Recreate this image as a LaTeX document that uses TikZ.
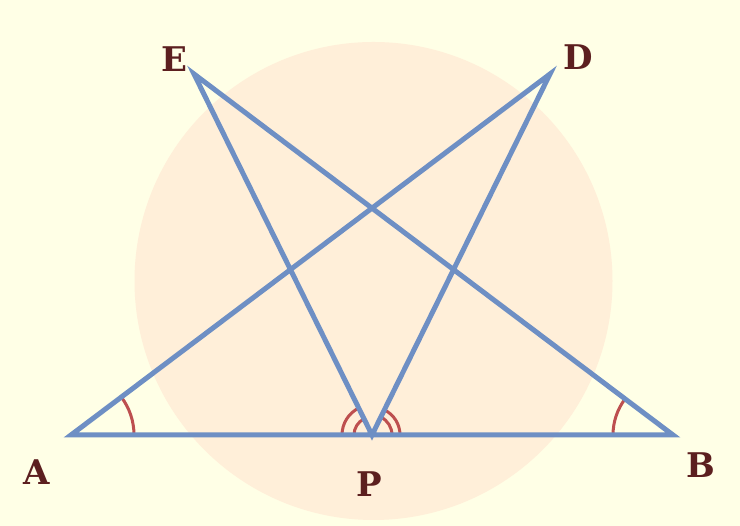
\documentclass[tikz,border=0pt]{standalone}
\usepackage{fontspec}
\setmainfont{DejaVu Serif}
\definecolor{bgc}{HTML}{FFFFE6}
\definecolor{circc}{HTML}{FFEFD9}
\definecolor{linec}{HTML}{6E8FC4}
\definecolor{arcc}{HTML}{BD4F4F}
\definecolor{labc}{HTML}{5C1F1F}
\begin{document}
\begin{tikzpicture}[x=1pt,y=1pt,
  starline/.style={draw=linec,line width=5pt,line join=miter},
  anglearc/.style={draw=arcc,line width=3pt},
  lab/.style={inner sep=0pt,text=labc,font=\fontsize{34}{34}\selectfont\bfseries}]
\useasboundingbox (0,0) rectangle (740,526);
\fill[bgc] (0,0) rectangle (740,526);
\fill[circc] (373.5,245) circle[radius=239pt];
\coordinate (A) at (71,91);
\coordinate (B) at (673,91);
\coordinate (P) at (372,91);
\coordinate (E) at (194,452);
\coordinate (D) at (550,452);
% angle arcs
\draw[anglearc] ([shift={(0:63pt)}]A) arc[start angle=0,end angle=37,radius=63pt];
\draw[anglearc] ([shift={(143:60pt)}]B) arc[start angle=143,end angle=180,radius=60pt];
\draw[anglearc] ([shift={(116.25:30pt)}]P) arc[start angle=116.25,end angle=180,radius=30pt];
\draw[anglearc] ([shift={(116.25:18pt)}]P) arc[start angle=116.25,end angle=180,radius=18pt];
\draw[anglearc] ([shift={(0:20pt)}]P) arc[start angle=0,end angle=63.75,radius=20pt];
\draw[anglearc] ([shift={(0:28pt)}]P) arc[start angle=0,end angle=63.75,radius=28pt];
% star
\draw[starline] (A) -- (D) -- (P) -- (E) -- (B) -- cycle;
% labels
\node[lab] (lE) at (174,466.5) {E};
\node[lab] (lD) at (578,469) {D};
\node[lab] (lA) at (37,53.5) {A};
\node[lab] (lB) at (701,61.3) {B};
\node[lab] (lP) at (369,42) {P};
\end{tikzpicture}
\end{document}
